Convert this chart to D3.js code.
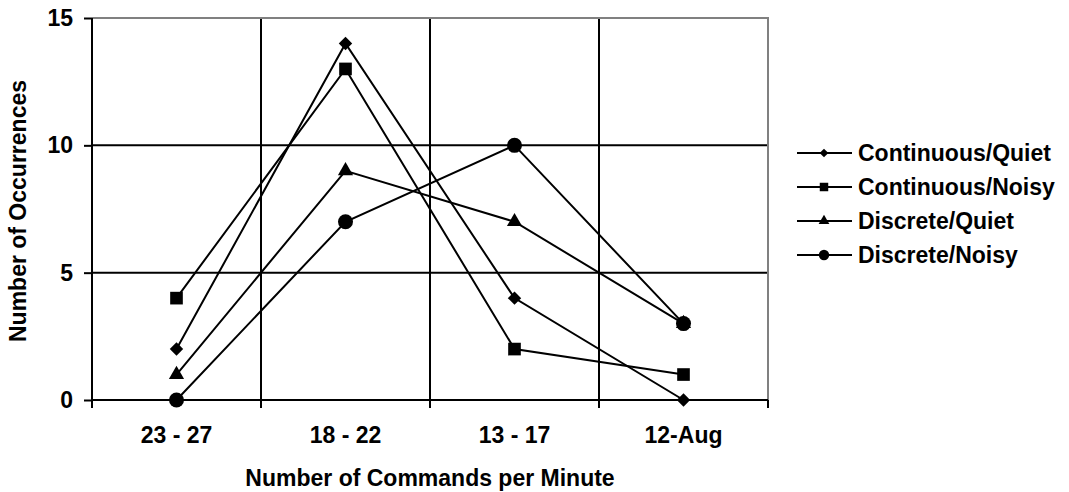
<!DOCTYPE html>
<html><head><meta charset="utf-8">
<script src="https://cdn.jsdelivr.net/npm/d3@7"></script>
<style>body{margin:0;background:#fff}text{font-family:"Liberation Sans",Arial,sans-serif;font-weight:bold}</style>
</head><body><svg id="c" width="1069" height="492"></svg>
<script>
const categories = ["23 - 27", "18 - 22", "13 - 17", "12-Aug"];
const continuousQuiet = [2, 14, 4, 0];
const continuousNoisy = [4, 13, 2, 1];
const discreteQuiet = [1, 9, 7, 3];
const discreteNoisy = [0, 7, 10, 3];
const yTicks = [0, 5, 10, 15];
const seriesNames = ["Continuous/Quiet", "Continuous/Noisy", "Discrete/Quiet", "Discrete/Noisy"];
const seriesData = [continuousQuiet, continuousNoisy, discreteQuiet, discreteNoisy];

const FS = 23;
const svg = d3.select("#c");
const L = 92, R = 768, T = 18, B = 400;
const x = d3.scaleBand().domain(categories).range([L, R]);
const y = d3.scaleLinear().domain([0, 15]).range([B, T]);

// marker definitions: [symbol type, size, rotation]
const markers = [
  [d3.symbolSquare, 90, 45],
  [d3.symbolSquare, 160, 0],
  [d3.symbolTriangle, 100, 0],
  [d3.symbolCircle, 177, 0]
];
const legendMarkers = [
  [d3.symbolSquare, 38, 45],
  [d3.symbolSquare, 72, 0],
  [d3.symbolTriangle, 50, 0],
  [d3.symbolCircle, 85, 0]
];

// gridlines
svg.append("g").selectAll("line").data(yTicks.filter(d => d > 0 && d < 15)).join("line")
  .attr("x1", L).attr("x2", R).attr("y1", d => y(d)).attr("y2", d => y(d))
  .attr("stroke", "#000").attr("stroke-width", 2);
const bounds = categories.slice(1).map(c => x(c));
svg.append("g").selectAll("line").data(bounds).join("line")
  .attr("x1", d => d).attr("x2", d => d).attr("y1", T).attr("y2", B)
  .attr("stroke", "#000").attr("stroke-width", 2);
svg.append("path").attr("d", `M${L},${T}H${R}V${B}`).attr("fill", "none")
  .attr("stroke", "#808080").attr("stroke-width", 2);

// y axis
const ya = svg.append("g").attr("transform", `translate(${L},0)`)
  .call(d3.axisLeft(y).tickValues(yTicks).tickSize(8).tickPadding(11));
ya.select(".domain").attr("stroke", "#000").attr("stroke-width", 2).attr("d", `M0,${T}V${B}`);
ya.selectAll(".tick line").attr("stroke", "#000").attr("stroke-width", 2);
ya.selectAll(".tick text").attr("font-size", FS).attr("font-family", "Liberation Sans, Arial").attr("font-weight", "bold").attr("fill", "#000");

// x axis
const xa = svg.append("g").attr("transform", `translate(0,${B})`)
  .call(d3.axisBottom(x).tickSize(0).tickPadding(0));
xa.select(".domain").attr("stroke", "#000").attr("stroke-width", 2).attr("d", `M${L},0H${R}`);
xa.selectAll(".tick text").attr("font-size", FS).attr("font-family", "Liberation Sans, Arial").attr("font-weight", "bold").attr("fill", "#000")
  .attr("dy", null).attr("y", 43);
svg.append("g").selectAll("line").data([L, ...bounds, R]).join("line")
  .attr("x1", d => d).attr("x2", d => d).attr("y1", B).attr("y2", B + 8)
  .attr("stroke", "#000").attr("stroke-width", 2);

// axis titles
svg.append("text").attr("x", (L + R) / 2).attr("y", 486)
  .attr("text-anchor", "middle").attr("font-size", FS).text("Number of Commands per Minute");
svg.append("text").attr("transform", `translate(26,211) rotate(-90)`)
  .attr("text-anchor", "middle").attr("font-size", FS).text("Number of Occurrences");

// series
const line = d3.line().x((d, i) => x(categories[i]) + x.bandwidth() / 2).y(d => y(d));
seriesData.forEach((arr, k) => {
  const [type, size, rot] = markers[k];
  svg.append("path").attr("d", line(arr)).attr("fill", "none").attr("stroke", "#000").attr("stroke-width", 2);
  svg.append("g").selectAll("path").data(arr).join("path")
    .attr("transform", (d, i) => `translate(${x(categories[i]) + x.bandwidth() / 2},${y(d)}) rotate(${rot})`)
    .attr("d", d3.symbol().type(type).size(size)).attr("fill", "#000");
});

// legend
const lg = svg.append("g");
seriesNames.forEach((n, k) => {
  const yy = 153 + k * 34;
  const [type, size, rot] = legendMarkers[k];
  lg.append("line").attr("x1", 797).attr("x2", 852).attr("y1", yy).attr("y2", yy).attr("stroke", "#000").attr("stroke-width", 2);
  lg.append("path").attr("transform", `translate(824,${yy}) rotate(${rot})`).attr("d", d3.symbol().type(type).size(size)).attr("fill", "#000");
  lg.append("text").attr("x", 858).attr("y", yy + 8).attr("font-size", FS).text(n);
});
</script></body></html>
